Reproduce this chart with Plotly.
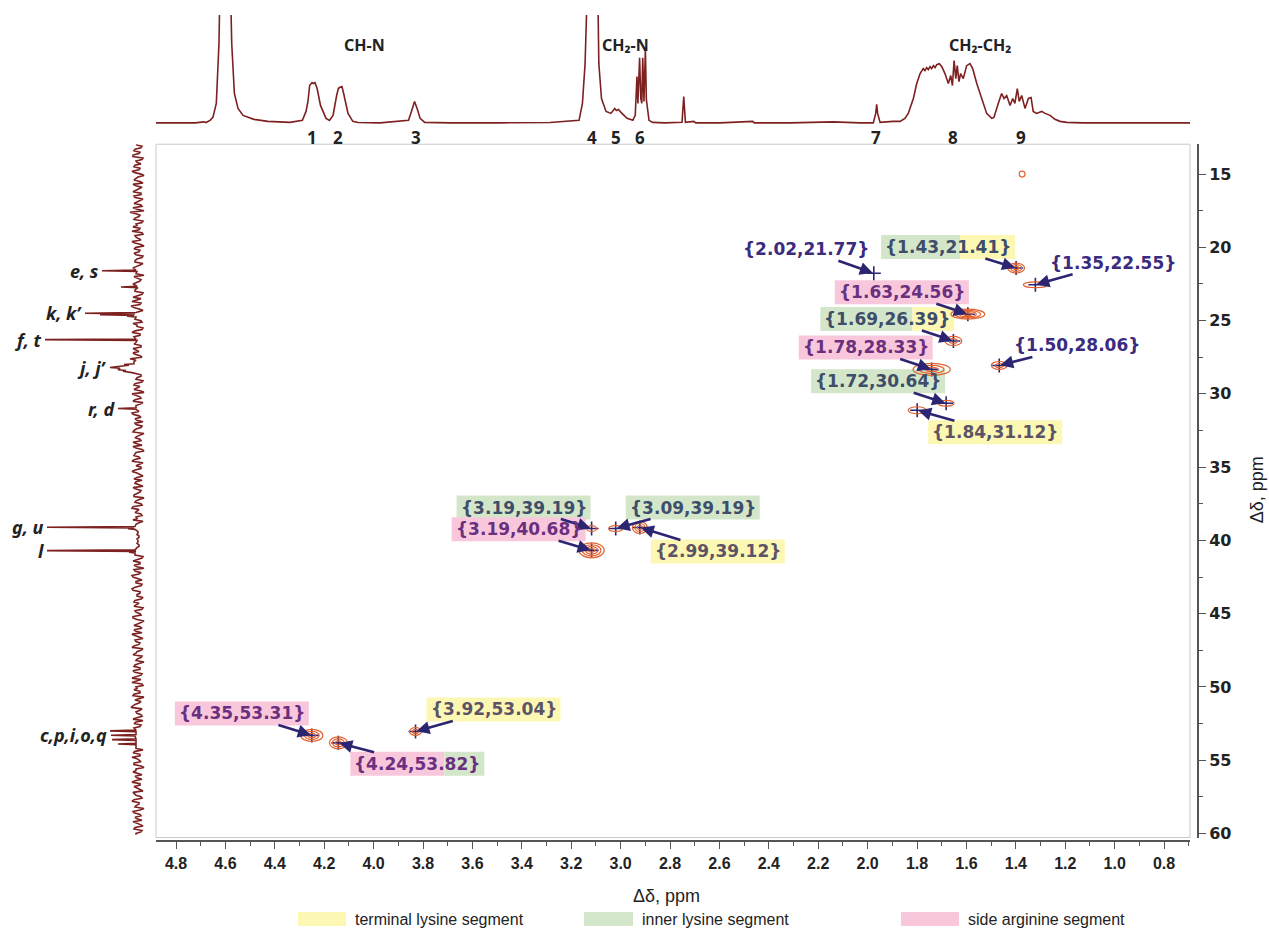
import plotly.graph_objects as go

W, H = 1269, 937

# ------------------------------------------------------------------ data
# 1H projection (top): chemical shift (ppm) and intensity (baseline = 0)
h_ppm = [4.996, 4.917, 4.834, 4.797, 4.789, 4.772, 4.760, 4.746, 4.735, 4.726,
         4.710, 4.693, 4.682, 4.671, 4.656, 4.635, 4.590, 4.532, 4.440, 4.389,
         4.374, 4.366, 4.359, 4.349, 4.343, 4.337, 4.328, 4.314, 4.291, 4.277,
         4.262, 4.247, 4.240, 4.235, 4.225, 4.218, 4.210, 4.200, 4.180, 4.158,
         4.067, 3.949, 3.937, 3.924, 3.912, 3.901, 3.882, 3.777, 3.570, 3.362,
         3.242, 3.228, 3.217, 3.209, 3.188, 3.168, 3.160, 3.149, 3.130, 3.110,
         3.094, 3.087, 3.079, 3.064, 3.043, 3.019, 3.009, 3.002, 2.998, 2.991,
         2.986, 2.982, 2.978, 2.973, 2.967, 2.963, 2.952, 2.937, 2.886, 2.815,
         2.808, 2.801, 2.766, 2.758, 2.658, 2.522, 2.515, 2.367, 2.231, 2.189,
         2.077, 2.022, 2.012, 2.008, 2.004, 1.994, 1.939, 1.911, 1.891, 1.877,
         1.870, 1.856, 1.842, 1.828, 1.815, 1.808, 1.801, 1.794, 1.787, 1.780,
         1.773, 1.766, 1.759, 1.748, 1.738, 1.725, 1.711, 1.701, 1.694, 1.687,
         1.680, 1.674, 1.667, 1.660, 1.649, 1.635, 1.621, 1.610, 1.593, 1.573,
         1.552, 1.531, 1.522, 1.504, 1.490, 1.480, 1.469, 1.455, 1.444, 1.435,
         1.425, 1.417, 1.407, 1.393, 1.379, 1.368, 1.359, 1.345, 1.324, 1.310,
         1.289, 1.269, 1.248, 1.220, 1.153, 0.999, 0.833, 0.709]
h_int = [0.5, 0.8, 0.5, 1.5, 0.8, 3, 6, 20, 80, 200,
         300, 200, 80, 30, 15, 8, 4, 2, 1, 3,
         12, 22, 38, 41, 40, 41, 35, 18, 5, 3,
         8, 28, 35, 36, 37, 30, 20, 10, 2, 0.8,
         0.5, 3, 12, 22, 14, 5, 1, 0.5, 0.5, 0.8,
         3, 20, 60, 200, 300, 200, 60, 25, 12, 10,
         15, 13, 14, 10, 5, 3, 8, 47, 20, 66,
         25, 20, 66, 22, 74, 24, 3, 1, 0.5, 1,
         27, 1, 2, 0.5, 0.5, 2, 0.5, 0.5, 1.5, 1.5,
         0.5, 0.5, 10, 19, 10, 1, 2, 2, 5, 10,
         15, 25, 40, 50, 55, 53, 56, 54, 57, 55,
         58, 56, 59, 60, 57, 50, 40, 48, 38, 63,
         45, 58, 42, 50, 45, 58, 60, 55, 40, 25,
         10, 5, 6, 20, 30, 25, 28, 18, 25, 20,
         35, 22, 28, 15, 25, 26, 12, 10, 12, 10,
         8, 4, 2, 1, 0.5, 0.5, 0.5, 0.5]

# 1H peak numbering (top)
h_label_ppm = [4.35, 4.24, 3.92, 3.19, 3.09, 2.99, 2.01, 1.69, 1.41]
h_labels = ["1", "2", "3", "4", "5", "6", "7", "8", "9"]
h_groups = ["CH-N", "CH\u2082-N", "CH\u2082-CH\u2082"]
h_group_ppm = [4.13, 3.05, 1.58]

# 13C projection (left): baseline noise, two interleaved traces read every 0.2 ppm
c_noise_a = [2, -3, 4, -1, 5, -4, 1, 3, -2, 6, -3, 0, 4, -5, 2, -1, 5, -3, 3, -2,
             4, -4, 1, 8, -2, 3, -5, 2, 5, -1, -4, 3, 0, 6, -3, 2, -2, 4, -5, 1,
             3, -2, 5, -4, 2, 4, -3, 1, 6, -2, 3, -4, 5, 2, -3, 7, -1, 4, -2, 3,
             -3, 5, 1, -4, 6, -2, 3, -1, 4, -3, 2, 5, -2, 8, 4, 6, 3, -1, 5, -3,
             2, -4, 4, 1, -3, 6, -2, 3, -5, 2, 4, -1, 5, -3, 1, 3, -4, 2, 5, -2,
             3, -3, 1, 5, -4, 2, 4, -2, 6, -1, -3, 3, 1, -5, 4, 2, -2, 5, -3, 1,
             4, -2, 3, -4, 6, 1, -3, 2, 5, -1, 3, -2, 0, 1, -1, 0, 1, -1, 0, 2,
             3, -4, 5, -2, 1, 4, -3, 6, -1, 2, -4, 3, 5, -2, 1, -3, 4, 2, -5, 3,
             -2, 5, 1, -3, 4, -4, 2, 6, -1, 3, -2, 4, -5, 1, 5, -3, 2, -1, 4, -2,
             3, -3, 6, 1, -4, 2, 4, -2, 5, -1, -3, 3, 7, -2, 1, -4, 5, 2, -3, 4,
             -2, 4, 1, -3, 5, -4, 2, 3, -2, 6, -1, 4, -3, 2, 5, -4, 1, 3, -2, 4,
             -3, 5, 2, -4, 6, -1, 3, -2, 4, -3, 1, 5, -2, 3, -4, 2]
c_noise_b = [-4, 3, -2, 5, -5, 2, -3, 4, -1, 3, -6, 2, -2, 5, -4, 1, -3, 4, -5, 2,
             -3, 5, -6, 2, -1, 4, -4, 1, -2, 6, -5, 2, -3, 3, -6, 4, -1, 2, -4, 3,
             -5, 2, -3, 4, -6, 1, -2, 5, -4, 3, -5, 1, -3, 6, -2, 4, -5, 2, -1, 3,
             -4, 1, -5, 3, -2, 4, -6, 2, -3, 5, -1, 3, -4, 2, -5, 4, -2, 6, -3, 1,
             -5, 3, -2, 4, -6, 1, -3, 5, -2, 2, -4, 6, -1, 3, -5, 2, -3, 4, -6, 1,
             -2, 5, -4, 2, -6, 3, -1, 4, -5, 2, -3, 6, -2, 1, -4, 3, -5, 2, -2, 4,
             -6, 2, -3, 5, -1, 3, -4, 1, -5, 2, -1, 1, 0, -1, 1, 0, -1, 1, -3, 4,
             -5, 2, -2, 4, -6, 3, -1, 5, -4, 2, -3, 6, -2, 1, -5, 3, -1, 4, -4, 2,
             -3, 5, -6, 1, -2, 4, -4, 3, -5, 2, -1, 6, -3, 2, -4, 1, -6, 3, -2, 5,
             -4, 2, -3, 6, -5, 1, -2, 4, -6, 3, -1, 5, -4, 2, -3, 1, -5, 4, -2, 3,
             -6, 3, -1, 4, -4, 2, -5, 5, -2, 1, -3, 4, -6, 2, -1, 3, -4, 6, -2, 1,
             -5, 3, -3, 4, -1, 2, -6, 5, -2, 3, -4, 1, -5, 4, -3, 2]
c_noise_a_start, c_noise_b_start, c_noise_step = 13.0, 13.1, 0.2
# 13C peaks (ppm, intensity)
c_peak_ppm = [21.55, 21.6, 21.65, 22.65, 22.7, 22.75,
              24.45, 24.5, 24.55, 24.6, 24.65, 24.7, 24.75,
              26.25, 26.3, 26.35,
              27.95, 28.0, 28.05, 28.15, 28.2, 28.25, 28.35, 28.4, 28.45, 28.55,
              30.95, 31.0, 31.05,
              39.05, 39.1, 39.15, 39.2, 39.25,
              40.65, 40.7, 40.75, 40.8, 40.85,
              52.95, 53.0, 53.05, 53.25, 53.3, 53.35, 53.55, 53.6, 53.65, 53.85, 53.9, 53.95]
c_peak_int = [2, 36, 1, 1, 17, 0,
              2, 53, 3, 38, 4, 11, 2,
              2, 93, 1,
              4, 14, 9, 22, 28, 18, 20, 12, 15, 6,
              2, 20, 2,
              3, 91, 4, 10, 3,
              3, 91, 2, 9, 3,
              2, 28, 2, 2, 27, 3, 2, 26, 2, 2, 20, 2]
c_labels = ["e, s", "k, k\u2019", "f, t", "j, j\u2019", "r, d", "g, u", "l", "c,p,i,o,q"]
c_label_ppm = [21.6, 24.5, 26.3, 28.2, 31.0, 39.1, 40.7, 53.3]
c_label_int = [36, 53, 93, 28, 20, 91, 91, 28]

# HSQC cross peaks: 1H shift, 13C shift, contour levels, half widths (ppm)
peak_h = [4.35, 4.24, 3.92, 3.19, 3.19, 3.09, 2.99, 2.02,
          1.43, 1.35, 1.63, 1.69, 1.78, 1.50, 1.72, 1.84]
peak_c = [53.31, 53.82, 53.04, 39.19, 40.68, 39.19, 39.12, 21.77,
          21.41, 22.55, 24.56, 26.39, 28.33, 28.06, 30.64, 31.12]
peak_levels = [3, 3, 2, 1, 4, 1, 3, 0, 3, 1, 4, 2, 3, 2, 1, 1]
peak_hw = [0.046, 0.037, 0.025, 0.021, 0.052, 0.029, 0.031, 0.0,
           0.035, 0.050, 0.070, 0.035, 0.077, 0.033, 0.033, 0.037]
peak_cw = [0.41, 0.41, 0.27, 0.20, 0.51, 0.20, 0.41, 0.0,
           0.34, 0.20, 0.34, 0.31, 0.41, 0.27, 0.20, 0.24]
peak_segment = ["arg", "arg|inner", "term", "inner", "arg", "inner", "term", "",
                "inner|term", "", "arg", "inner|term", "arg", "", "inner", "term"]
# unlabeled weak cross peak
extra_h, extra_c, extra_hw, extra_cw = [1.405], [15.0], [0.012], [0.2]

segments = ["terminal lysine segment", "inner lysine segment", "side arginine segment"]
segment_keys = ["term", "inner", "arg"]

# ------------------------------------------------------------------ styles
SPEC = "#7d2020"
RING = "#e2632f"
NAVY = "#2c2672"
AXC = "#555555"
SEG_BG = {"term": "#fdf7b4", "inner": "#d3e6c9", "arg": "#f8c7dc"}
SEG_TXT = {"term": "#5c5466", "inner": "#3d4d6a", "arg": "#6b2f80", "": "#3b2b7e"}
COND = "Liberation Sans Narrow, Arial Narrow, Liberation Sans"
VERD = "DejaVu Sans"
CAL = "Noto Sans, Open Sans, Liberation Sans"

# label placement (pixel offsets of label centre from the cross peak)
label_off = [(-70, -22), (79, 21), (78, -22), (-68, -21), (-73, -21), (77, -21),
             (78, 24), (-68, -24), (-68, -21), (78, -22), (-66, -22), (-66, -22),
             (-66, -22), (78, -20), (-68, -22), (78, 22)]
label_split = {"arg|inner": 27, "inner|term": 12}
split_override = {11: 25}

def px(x):
    return x / W

def py(y):
    return 1 - y / H

main_x = [px(156), px(1190)]
main_y = [py(842), py(145)]

fig = go.Figure()

# top 1H projection
fig.add_trace(go.Scatter(x=h_ppm, y=h_int, xaxis="x", yaxis="y5", mode="lines",
                         line=dict(color=SPEC, width=1.6), showlegend=False,
                         hoverinfo="skip"))

# left 13C projection
pts = []
for start, vals in ((c_noise_a_start, c_noise_a), (c_noise_b_start, c_noise_b)):
    for i, v in enumerate(vals):
        p = round(start + c_noise_step * i, 2)
        if all(abs(p - q) > 0.07 for q in c_peak_ppm):
            pts.append((p, v))
pts += list(zip(c_peak_ppm, c_peak_int))
pts.sort()
fig.add_trace(go.Scatter(x=[v for _, v in pts], y=[p for p, _ in pts],
                         xaxis="x4", yaxis="y", mode="lines",
                         line=dict(color=SPEC, width=1.6), showlegend=False,
                         hoverinfo="skip"))

# cross-peak centres
fig.add_trace(go.Scatter(x=peak_h, y=peak_c, xaxis="x", yaxis="y", mode="markers",
                         marker=dict(symbol="cross-thin", size=10,
                                     line=dict(color=NAVY, width=1.6)),
                         showlegend=False, hoverinfo="skip"))

# ruler axis carrier (scale drawn below the map)
ruler_range = [4.881, 0.695]
fig.add_trace(go.Scatter(x=ruler_range, y=[None, None], xaxis="x3", yaxis="y",
                         mode="markers", showlegend=False, hoverinfo="skip"))

shapes = []
shapes.append(dict(type="rect", xref="paper", yref="paper",
                   x0=main_x[0], x1=main_x[1], y0=main_y[0], y1=main_y[1],
                   line=dict(color="#c9c9c9", width=1), layer="below"))

# contour rings
all_h = peak_h + extra_h
all_c = peak_c + extra_c
all_lv = peak_levels + [1]
all_hw = peak_hw + extra_hw
all_cw = peak_cw + extra_cw
for hh, cc, lv, hw, cw in zip(all_h, all_c, all_lv, all_hw, all_cw):
    for k in range(1, lv + 1):
        f = k / lv
        shapes.append(dict(type="circle", xref="x", yref="y",
                           x0=hh - hw * f, x1=hh + hw * f,
                           y0=cc - cw * f, y1=cc + cw * f,
                           line=dict(color=RING, width=1.2), layer="above"))

annotations = []
BW, BH = 67, 12
for i, (hh, cc, seg) in enumerate(zip(peak_h, peak_c, peak_segment)):
    ax, ay = label_off[i]
    if seg:
        parts = seg.split("|")
        if len(parts) == 1:
            bands = [(ax - BW, ax + BW, parts[0])]
        else:
            sp = split_override.get(i, label_split[seg])
            bands = [(ax - BW, ax + sp, parts[0]), (ax + sp, ax + BW, parts[1])]
        for x0, x1, key in bands:
            shapes.append(dict(type="rect", xref="x", yref="y",
                               xsizemode="pixel", ysizemode="pixel",
                               xanchor=hh, yanchor=cc,
                               x0=x0, x1=x1, y0=-ay - BH, y1=-ay + BH,
                               fillcolor=SEG_BG[key], line=dict(width=0),
                               layer="below"))
    tcol = SEG_TXT[seg.split("|")[0]]
    annotations.append(dict(x=hh, y=cc, xref="x", yref="y", ax=ax, ay=ay,
                            text="{%.2f,%.2f}" % (hh, cc), showarrow=True,
                            arrowhead=2, arrowsize=1, arrowwidth=2.6,
                            arrowcolor=NAVY, standoff=1,
                            font=dict(family=VERD, size=17, color=tcol,
                                      weight="bold")))

# top projection labels
for t, p in zip(h_labels, h_label_ppm):
    annotations.append(dict(x=p, y=py(138), xref="x", yref="paper", text=t,
                            showarrow=False, xanchor="center", yanchor="middle",
                            font=dict(family=CAL, size=17, color="#222",
                                      weight="bold")))
for t, p in zip(h_groups, h_group_ppm):
    annotations.append(dict(x=p, y=py(45), xref="x", yref="paper", text=t,
                            showarrow=False, xanchor="center", yanchor="middle",
                            font=dict(family=CAL, size=16, color="#222",
                                      weight="bold")))

# left projection labels
for t, p, v in zip(c_labels, c_label_ppm, c_label_int):
    annotations.append(dict(x=v + 1, y=p, xref="x4", yref="y", text=t,
                            xanchor="right", yanchor="middle", showarrow=False,
                            font=dict(family=CAL, size=18, color="#222",
                                      weight="bold", style="italic")))

# axis titles
annotations.append(dict(x=px(666), y=py(901), xref="paper", yref="paper",
                        text="\u0394\u03b4, ppm", showarrow=False,
                        xanchor="center", yanchor="middle",
                        font=dict(family=COND, size=18, color="#222")))
annotations.append(dict(x=px(1257), y=py(493), xref="paper", yref="paper",
                        text="\u0394\u03b4, ppm", showarrow=False, textangle=-90,
                        xanchor="center", yanchor="middle",
                        font=dict(family=COND, size=18, color="#222")))

# legend
leg_sw = [(298, 346), (584, 633), (901, 959)]
for (x0, x1), key, name in zip(leg_sw, segment_keys, segments):
    shapes.append(dict(type="rect", xref="paper", yref="paper",
                       x0=px(x0), x1=px(x1), y0=py(931), y1=py(917),
                       fillcolor=SEG_BG[key], line=dict(width=0)))
    annotations.append(dict(x=px(x1 + 7), y=py(924), xref="paper", yref="paper",
                            xanchor="left", yanchor="middle", text=name,
                            showarrow=False,
                            font=dict(family=COND, size=16, color="#222")))

fig.update_layout(
    width=W, height=H, margin=dict(l=0, r=0, t=0, b=0),
    paper_bgcolor="white", plot_bgcolor="white", showlegend=False,
    xaxis=dict(domain=main_x, range=[4.996, 0.709], visible=False, anchor="y"),
    yaxis=dict(domain=main_y, range=[60.28, 12.96], anchor="free",
               position=px(1198), side="right", showline=True, linecolor=AXC,
               linewidth=2, ticks="outside", ticklen=7, tickwidth=1.2,
               tickcolor=AXC, dtick=5, tick0=0, showgrid=False, zeroline=False,
               tickfont=dict(family=VERD, size=16, color="#222", weight="bold"),
               minor=dict(dtick=2.5, ticks="outside", ticklen=4,
                          tickcolor=AXC)),
    xaxis3=dict(domain=main_x, range=ruler_range, anchor="free", position=py(846),
                overlaying="x", side="bottom", showline=True, linecolor=AXC,
                linewidth=2, ticks="outside", ticklen=7, tickwidth=1.2,
                tickcolor=AXC, dtick=0.2, tick0=0, tickformat=".1f",
                showgrid=False, zeroline=False,
                tickfont=dict(family=COND, size=16, color="#222", weight="bold"),
                minor=dict(dtick=0.1, ticks="outside", ticklen=4,
                           tickcolor=AXC)),
    xaxis4=dict(domain=[px(20), px(152)], range=[118, -14], visible=False,
                anchor="y"),
    yaxis5=dict(domain=[py(130), py(15)], range=[-6, 109], visible=False,
                anchor="x"),
    shapes=shapes, annotations=annotations,
)

fig.write_html("out.html", config={"displayModeBar": False},
               post_script="document.body.style.margin='0';"
                           "document.body.style.overflow='hidden';")
